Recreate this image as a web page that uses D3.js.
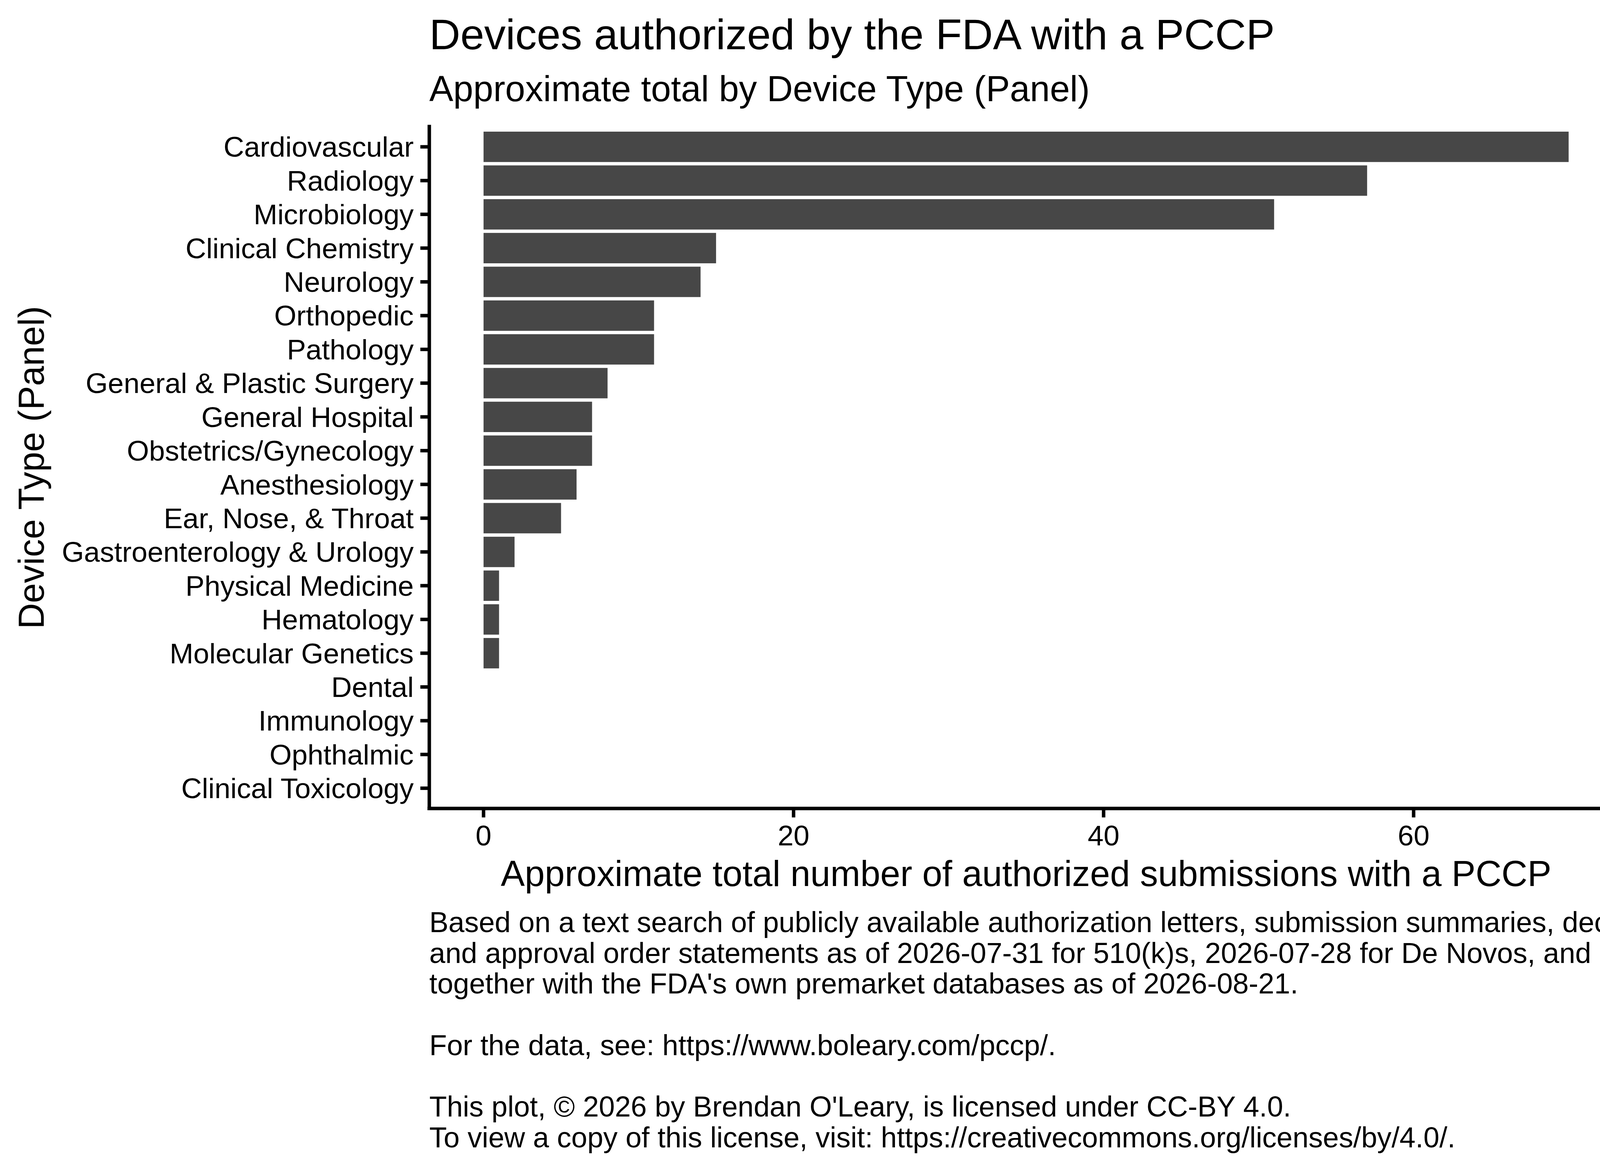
<!DOCTYPE html>
<html>
<head>
<meta charset="utf-8">
<script src="https://cdn.jsdelivr.net/npm/d3@7"></script>
<style>
  html, body { margin: 0; padding: 0; background: #fff; }
  svg { display: block; overflow: hidden; }
  text { font-family: "Liberation Sans", Arial, sans-serif; fill: #000; }
</style>
</head>
<body>
<div id="chart"></div>
<script>
// panels, largest first (top to bottom)
const panels = [
  "Cardiovascular", "Radiology", "Microbiology", "Clinical Chemistry",
  "Neurology", "Orthopedic", "Pathology", "General & Plastic Surgery",
  "General Hospital", "Obstetrics/Gynecology", "Anesthesiology",
  "Ear, Nose, & Throat", "Gastroenterology & Urology", "Physical Medicine",
  "Hematology", "Molecular Genetics", "Dental", "Immunology", "Ophthalmic",
  "Clinical Toxicology"
];
const totals = [70, 57, 51, 15, 14, 11, 11, 8, 7, 7, 6, 5, 2, 1, 1, 1, 0, 0, 0, 0];
const xTicks = [0, 20, 40, 60];

const titleText = "Devices authorized by the FDA with a PCCP";
const subtitleText = "Approximate total by Device Type (Panel)";
const xLabel = "Approximate total number of authorized submissions with a PCCP";
const yLabel = "Device Type (Panel)";
// the first two lines run past the right edge in the original too
const captionLines = [
  "Based on a text search of publicly available authorization letters, submission summaries, decision summaries,",
  "and approval order statements as of 2026-07-31 for 510(k)s, 2026-07-28 for De Novos, and 2026-07-31 for PMAs,",
  "together with the FDA's own premarket databases as of 2026-08-21.",
  "",
  "For the data, see: https://www.boleary.com/pccp/.",
  "",
  "This plot, \u00A9 2026 by Brendan O'Leary, is licensed under CC-BY 4.0.",
  "To view a copy of this license, visit: https://creativecommons.org/licenses/by/4.0/."
];

const data = panels.map((p, i) => ({ panel: p, total: totals[i] }));

const W = 4200, H = 3000;
const panelLeft = 1099, panelRight = 4154.6, panelTop = 324, panelBottom = 2069.5;
const lineW = 8.9, tickLen = 22.9;

const svg = d3.select("#chart").append("svg")
  .attr("width", W)
  .attr("height", H);

svg.append("rect").attr("width", W).attr("height", H).attr("fill", "#fff");

// ggplot style expansion: 5% on the continuous axis
const maxVal = d3.max(totals);
const x = d3.scaleLinear()
  .domain([-0.05 * maxVal, maxVal * 1.05])
  .range([panelLeft, panelRight]);

const y = d3.scaleBand()
  .domain(panels)
  .range([panelTop, panelBottom])
  .paddingInner(0.1)
  .paddingOuter(0.15);

// bars
svg.append("g")
  .selectAll("rect")
  .data(data.filter(d => d.total > 0))
  .join("rect")
  .attr("x", x(0))
  .attr("y", d => y(d.panel))
  .attr("width", d => x(d.total) - x(0))
  .attr("height", y.bandwidth())
  .attr("fill", "#474747");

// y axis
const yAxis = svg.append("g")
  .attr("transform", `translate(${panelLeft},0)`)
  .call(d3.axisLeft(y).tickSize(tickLen).tickSizeOuter(0).tickPadding(17).offset(0));

yAxis.attr("font-family", null).attr("font-size", null);
yAxis.select(".domain")
  .attr("stroke", "#000")
  .attr("stroke-width", lineW)
  .attr("stroke-linecap", "square");
yAxis.selectAll(".tick line").attr("stroke", "#000").attr("stroke-width", lineW);
yAxis.selectAll(".tick text")
  .attr("dy", "0.35em")
  .style("font-size", "73px")
  .attr("fill", "#000");

// x axis
const xAxis = svg.append("g")
  .attr("transform", `translate(0,${panelBottom})`)
  .call(d3.axisBottom(x).tickValues(xTicks).tickSize(tickLen).tickSizeOuter(0).tickPadding(20).offset(0));

xAxis.attr("font-family", null).attr("font-size", null);
xAxis.select(".domain")
  .attr("stroke", "#000")
  .attr("stroke-width", lineW)
  .attr("stroke-linecap", "square");
xAxis.selectAll(".tick line").attr("stroke", "#000").attr("stroke-width", lineW);
xAxis.selectAll(".tick text")
  .style("font-size", "73px")
  .attr("fill", "#000");

// titles
svg.append("text")
  .attr("x", panelLeft)
  .attr("y", 126)
  .style("font-size", "110px")
  .text(titleText);

svg.append("text")
  .attr("x", panelLeft)
  .attr("y", 259)
  .style("font-size", "92px")
  .text(subtitleText);

svg.append("text")
  .attr("x", (panelLeft + panelRight) / 2)
  .attr("y", 2268)
  .attr("text-anchor", "middle")
  .style("font-size", "92px")
  .text(xLabel);

svg.append("text")
  .attr("transform", `translate(112,${(panelTop + panelBottom) / 2}) rotate(-90)`)
  .attr("text-anchor", "middle")
  .style("font-size", "92px")
  .text(yLabel);

// caption
svg.append("g")
  .selectAll("text")
  .data(captionLines)
  .join("text")
  .attr("x", panelLeft)
  .attr("y", (d, i) => 2386 + i * 78.7)
  .style("font-size", "73.5px")
  .text(d => d);
</script>
</body>
</html>
